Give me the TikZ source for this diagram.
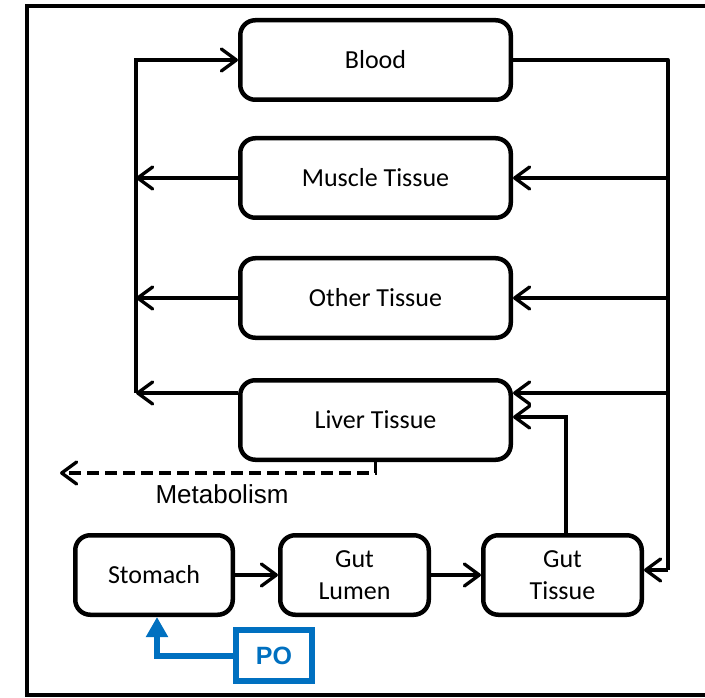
\documentclass[tikz,border=0pt]{standalone}
\usepackage{fontspec}
\setmainfont{Carlito}
\newfontfamily\arialfont{Liberation Sans}
\usetikzlibrary{arrows.meta}

\begin{document}
\begin{tikzpicture}[x=1pt,y=-1pt,
  box/.style={draw=black, line width=4.5pt, rounded corners=15pt, minimum width=270.5pt, minimum height=79.5pt, inner sep=0pt, align=center, font=\fontsize{26}{32}\selectfont},
  flow/.style={line width=3.3pt, -{Straight Barb[length=15pt,width=22pt,line cap=round,line join=round]}},
  poflow/.style={draw=po blue, line width=6pt, -{Triangle[length=20pt,width=21pt]}},
  pobox/.style={draw=po blue, text=po blue, line width=5.5pt, minimum width=76pt, minimum height=51pt, inner sep=0pt, font=\arialfont\bfseries\fontsize{25}{30}\selectfont}]
\definecolor{po blue}{RGB}{0,112,192}
\useasboundingbox (0,0) rectangle (705,698);
\draw[line width=4.5pt] (705,6) -- (27,6) -- (27,695) -- (705,695);

    \node[box] (blood) at (375.5,60) {Blood};
    \node[box] (muscle) at (375.5,178) {Muscle Tissue};
    \node[box] (other) at (375.5,298) {Other Tissue};
    \node[box] (liver) at (375.5,420) {Liver Tissue};
    \node[box, minimum width=157.5pt] (stomach) at (154,575) {Stomach};
    \node[box, minimum width=148.5pt] (lumen) at (354.5,575) {Gut\\Lumen};
    \node[box, minimum width=158.5pt] (guttissue) at (562.5,575) {Gut\\Tissue};
    \node[pobox] (po) at (274,655.5) {PO};

\coordinate (rbus) at (668,570);
\coordinate (lbus) at (136,393);
\coordinate (metab) at (60,473);

    % blood out to the organs
    \draw[line width=3.3pt, line join=round] (blood.east) -| (rbus);
    \draw[flow] (rbus) -- (rbus -| guttissue.east);
    \draw[flow] (muscle.east -| rbus) -- (muscle.east);
    \draw[flow] (other.east -| rbus) -- (other.east);
    \draw[flow] ([yshift=27pt]liver.east -| rbus) -- ([yshift=27pt]liver.east);
    % organs back to blood
    \draw[flow] (lbus) |- (blood.west);
    \draw[flow] (muscle.west) -- (muscle.west -| lbus);
    \draw[flow] (other.west) -- (other.west -| lbus);
    \draw[flow] ([yshift=27pt]liver.west) -- ([yshift=27pt]liver.west -| lbus);
    % gut
    \draw[flow] (stomach) -- (lumen);
    \draw[flow] (lumen) -- (guttissue);
    \draw[flow] ([xshift=3.5pt]guttissue.north) |- ([yshift=3pt]liver.east);
    \draw[flow, dash pattern=on 12pt off 6pt] (liver.south) |- (metab);
    \node[font=\arialfont\fontsize{26}{31}\selectfont] (metablabel) at (222,494) {Metabolism};
    \draw[poflow] (po.west) -| ([xshift=3pt]stomach.south);

\end{tikzpicture}
\end{document}
